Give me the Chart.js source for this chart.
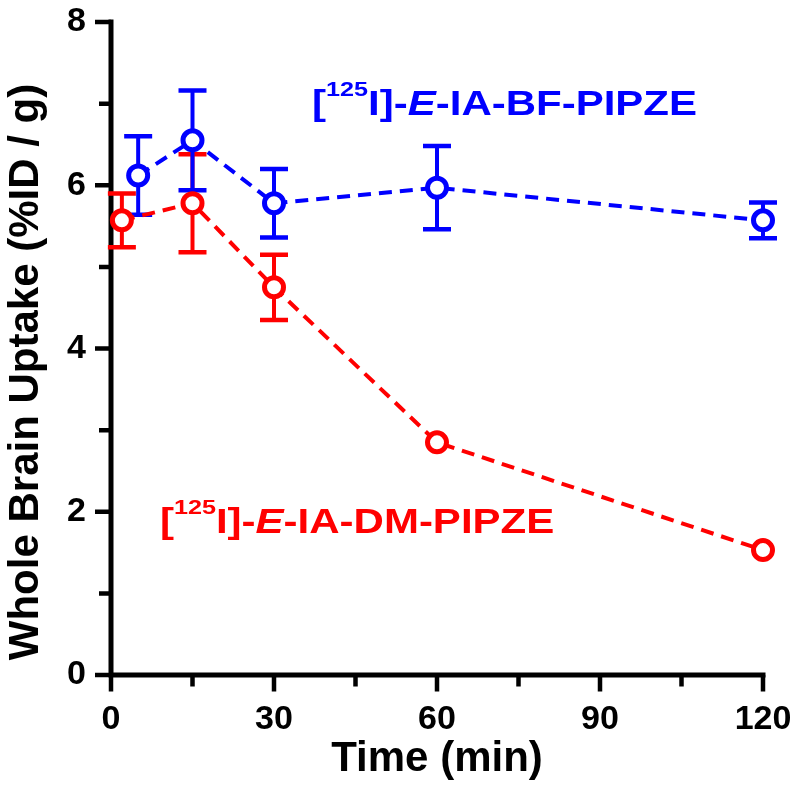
<!DOCTYPE html>
<html>
<head>
<meta charset="utf-8">
<script src="https://cdn.jsdelivr.net/npm/chart.js@4.4.1/dist/chart.umd.min.js"></script>
<style>
  html, body { margin: 0; padding: 0; background: #ffffff; }
  #wrap { width: 800px; height: 795px; }
</style>
</head>
<body>
<div id="wrap"><canvas id="c" width="800" height="795"></canvas></div>
<script>
// ---- data ----
const timeBF = [5, 15, 30, 60, 120];
const uptakeBF = [6.12, 6.55, 5.78, 5.97, 5.57];
const errBF = [0.48, 0.61, 0.42, 0.51, 0.22];

const timeDM = [2, 15, 30, 60, 120];
const uptakeDM = [5.57, 5.78, 4.75, 2.85, 1.53];
const errDM = [0.33, 0.60, 0.40, 0, 0];

const xMajorTicks = [0, 30, 60, 90, 120];
const xMinorTicks = [15, 45, 75, 105];
const yMajorTicks = [0, 2, 4, 6, 8];
const yMinorTicks = [1, 3, 5, 7];

const xTitle = 'Time (min)';
const yTitle = 'Whole Brain Uptake (%ID / g)';
const labelBF = ['[', '125', 'I]-', 'E', '-IA-BF-PIPZE'];
const labelDM = ['[', '125', 'I]-', 'E', '-IA-DM-PIPZE'];

const BLUE = 'rgb(0,0,255)';
const RED = 'rgb(255,0,0)';
const FONT = '"Liberation Sans", Arial, Helvetica, sans-serif';

function pts(xs, ys) { return xs.map((x, i) => ({ x: x, y: ys[i] })); }

const errorBarPlugin = {
  id: 'errorBars',
  beforeDatasetsDraw(chart) {
    const ctx = chart.ctx;
    const xs = chart.scales.x, ys = chart.scales.y;
    const sets = [
      { t: timeDM, v: uptakeDM, e: errDM, c: RED },
      { t: timeBF, v: uptakeBF, e: errBF, c: BLUE }
    ];
    ctx.save();
    sets.forEach(s => {
      ctx.strokeStyle = s.c;
      ctx.lineCap = 'butt';
      s.t.forEach((t, i) => {
        if (!s.e[i]) return;
        const px = xs.getPixelForValue(t);
        const top = ys.getPixelForValue(s.v[i] + s.e[i]);
        const bot = ys.getPixelForValue(s.v[i] - s.e[i]);
        ctx.lineWidth = 4;
        ctx.beginPath(); ctx.moveTo(px, top); ctx.lineTo(px, bot); ctx.stroke();
        ctx.lineWidth = 4.5;
        ctx.beginPath();
        ctx.moveTo(px - 14, top); ctx.lineTo(px + 14, top);
        ctx.moveTo(px - 14, bot); ctx.lineTo(px + 14, bot);
        ctx.stroke();
      });
    });
    ctx.restore();
  }
};

const axesPlugin = {
  id: 'axesDraw',
  beforeDatasetsDraw(chart) {
    const ctx = chart.ctx;
    const xs = chart.scales.x, ys = chart.scales.y;
    const a = chart.chartArea;
    const lw = 5;
    ctx.save();
    ctx.strokeStyle = '#000';
    ctx.lineWidth = lw;
    ctx.lineCap = 'butt';
    ctx.beginPath();
    ctx.moveTo(a.left, a.top - lw / 2); ctx.lineTo(a.left, a.bottom + lw / 2);
    ctx.moveTo(a.left - lw / 2, a.bottom); ctx.lineTo(a.right + lw / 2, a.bottom);
    ctx.stroke();
    ctx.lineWidth = 4.5;
    ctx.beginPath();
    yMajorTicks.forEach(v => { const p = ys.getPixelForValue(v); ctx.moveTo(a.left - 16, p); ctx.lineTo(a.left, p); });
    yMinorTicks.forEach(v => { const p = ys.getPixelForValue(v); ctx.moveTo(a.left - 12, p); ctx.lineTo(a.left, p); });
    xMajorTicks.forEach(v => { const p = xs.getPixelForValue(v); ctx.moveTo(p, a.bottom); ctx.lineTo(p, a.bottom + 16.5); });
    xMinorTicks.forEach(v => { const p = xs.getPixelForValue(v); ctx.moveTo(p, a.bottom); ctx.lineTo(p, a.bottom + 11.5); });
    ctx.stroke();
    ctx.restore();
  },
  afterDraw(chart) {
    const ctx = chart.ctx;
    const xs = chart.scales.x, ys = chart.scales.y;
    ctx.save();
    ctx.fillStyle = '#000';
    ctx.font = 'bold 42px ' + FONT;
    ctx.translate(38, 372);
    ctx.rotate(-Math.PI / 2);
    ctx.textAlign = 'center';
    ctx.textBaseline = 'alphabetic';
    ctx.fillText(yTitle, 0, 0);
    ctx.restore();

    function drawLabel(parts, xVal, yVal, color) {
      const x0 = xs.getPixelForValue(xVal), y0 = ys.getPixelForValue(yVal);
      ctx.save();
      ctx.translate(x0, y0);
      ctx.scale(1.2, 1);
      ctx.fillStyle = color;
      ctx.textBaseline = 'alphabetic';
      ctx.textAlign = 'left';
      let cx = 0;
      const fonts = ['bold 35px ', 'bold 21px ', 'bold 35px ', 'italic bold 35px ', 'bold 35px '];
      const dy = [0, -19, 0, 0, 0];
      parts.forEach((p, i) => {
        ctx.font = fonts[i] + FONT;
        ctx.fillText(p, cx, dy[i]);
        cx += ctx.measureText(p).width;
      });
      ctx.restore();
    }
    drawLabel(labelBF, 37, 6.86, BLUE);
    drawLabel(labelDM, 9, 1.74, RED);
  }
};

const chart = new Chart(document.getElementById('c'), {
  type: 'line',
  data: {
    datasets: [
      {
        label: '[125I]-E-IA-BF-PIPZE',
        data: pts(timeBF, uptakeBF),
        borderColor: BLUE,
        borderWidth: 4,
        borderDash: [13, 8],
        pointRadius: 9.5,
        pointBorderWidth: 5,
        pointBackgroundColor: '#ffffff',
        pointBorderColor: BLUE,
        fill: false,
        tension: 0,
        clip: false
      },
      {
        label: '[125I]-E-IA-DM-PIPZE',
        data: pts(timeDM, uptakeDM),
        borderColor: RED,
        borderWidth: 4,
        borderDash: [13, 8],
        pointRadius: 9.5,
        pointBorderWidth: 5,
        pointBackgroundColor: '#ffffff',
        pointBorderColor: RED,
        fill: false,
        tension: 0,
        clip: false
      }
    ]
  },
  options: {
    responsive: false,
    animation: false,
    layout: { padding: { top: 22, right: 37, bottom: 0, left: 0 } },
    plugins: { legend: { display: false }, tooltip: { enabled: false } },
    scales: {
      x: {
        type: 'linear',
        min: 0, max: 120,
        afterBuildTicks: s => { s.ticks = xMajorTicks.map(v => ({ value: v })); },
        afterFit: s => { s.height = 120; s.paddingLeft = 0; s.paddingRight = 0; },
        grid: { display: false },
        border: { display: false },
        ticks: { color: '#000', padding: 16, font: { family: FONT, size: 34, weight: 'bold' } },
        title: { display: true, text: xTitle, color: '#000', padding: { top: 0, bottom: 10 }, font: { family: FONT, size: 42, weight: 'bold' } }
      },
      y: {
        type: 'linear',
        min: 0, max: 8,
        afterBuildTicks: s => { s.ticks = yMajorTicks.map(v => ({ value: v })); },
        afterFit: s => { s.width = 111; s.paddingTop = 0; s.paddingBottom = 0; },
        grid: { display: false },
        border: { display: false },
        ticks: { color: '#000', padding: 17, font: { family: FONT, size: 34, weight: 'bold' } }
      }
    }
  },
  plugins: [axesPlugin, errorBarPlugin]
});
</script>
</body>
</html>
